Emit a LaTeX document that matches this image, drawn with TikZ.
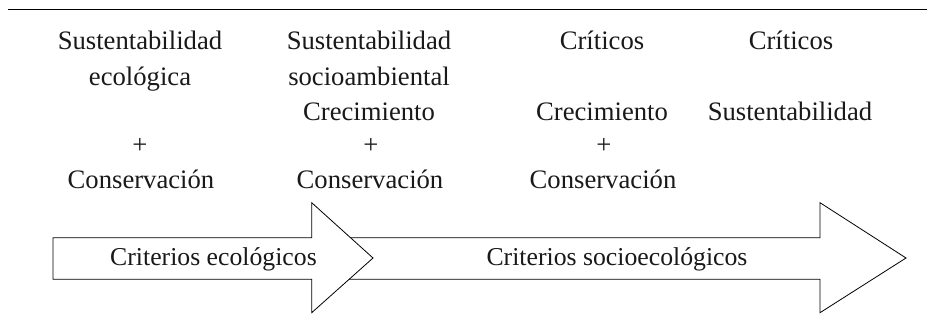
\documentclass[tikz,border=0pt]{standalone}
\usepackage{fontspec}
\setmainfont{Liberation Serif}
\begin{document}
\begin{tikzpicture}[x=0.75pt,y=-0.75pt,
  lbl/.style={inner sep=0pt,anchor=base,text=black!90,font=\fontsize{20}{24}\selectfont},
  alb/.style={lbl,font=\fontsize{19.3}{23}\selectfont},
  blockarrow/.style={draw=black,fill=white,line width=0.6pt,line join=miter}]
\useasboundingbox (0,0) rectangle (927,321);
\draw[line width=0.8pt] (8,9.5) coordinate (rl) -- (927,9.5) coordinate (rr);
% column 1
\node[lbl] (a1) at (140,50) {Sustentabilidad};
\node[lbl] (a2) at (140,85) {ecológica};
\node[lbl] (a3) at (140,153) {+};
\node[lbl] (a4) at (141,188) {Conservación};
% column 2
\node[lbl] (b1) at (369,50) {Sustentabilidad};
\node[lbl] (b2) at (369,85) {socioambiental};
\node[lbl] (b3) at (369,120) {Crecimiento};
\node[lbl] (b4) at (371,153) {+};
\node[lbl] (b5) at (370,188) {Conservación};
% column 3
\node[lbl] (c1) at (602,50) {Críticos};
\node[lbl] (c2) at (602,120) {Crecimiento};
\node[lbl] (c3) at (604,153) {+};
\node[lbl] (c4) at (603,188) {Conservación};
% column 4
\node[lbl] (d1) at (791,50) {Críticos};
\node[lbl] (d2) at (790,120) {Sustentabilidad};
% arrows
\draw[blockarrow] (330,237.7) -- (820,237.7) -- (820,202.7) -- (906,258) -- (820,312.7) -- (820,279.3) -- (330,279.3) -- cycle;
\draw[blockarrow] (53,237.7) -- (311.7,237.7) -- (311.7,202.7) -- (373,258) -- (311.7,312.7) -- (311.7,279.3) -- (53,279.3) -- cycle;
\node[alb] (e1) at (213.5,265) {Criterios ecológicos};
\node[alb] (e2) at (617,265) {Criterios socioecológicos};
\end{tikzpicture}
\end{document}
